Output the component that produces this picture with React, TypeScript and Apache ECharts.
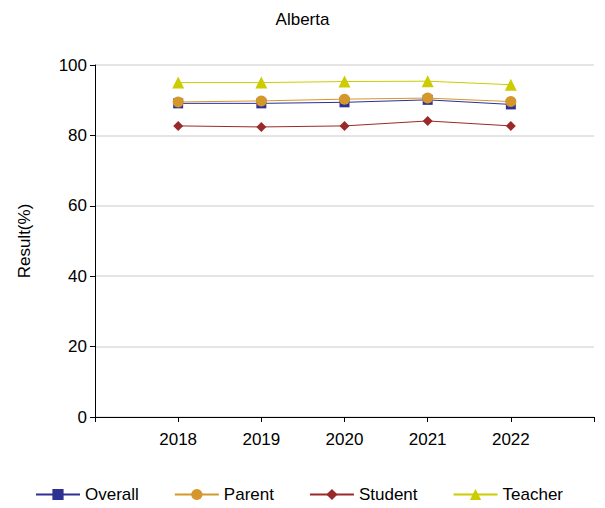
import * as echarts from "echarts";
import { useEffect, useRef } from "react";

const years = ["", "2018", "2019", "2020", "2021", "2022", ""];
const overall = [null, 89.1, 89.1, 89.4, 90.1, 88.8, null];
const parent = [null, 89.5, 89.8, 90.3, 90.6, 89.6, null];
const student = [null, 82.7, 82.4, 82.7, 84.1, 82.7, null];
const teacher = [null, 95.0, 95.0, 95.3, 95.4, 94.4, null];

function App() {
  const chartRef = useRef(null);

  useEffect(() => {
    const chart = echarts.init(chartRef.current, null, { renderer: "svg" });
    const mk = (name, data, color, symbol, size) => ({
      name,
      type: "line",
      data,
      symbol,
      symbolSize: size,
      itemStyle: { color },
      lineStyle: { color, width: 1 },
    });
    chart.setOption({
      animation: false,
      textStyle: { fontFamily: "Arial, Liberation Sans, sans-serif" },
      title: {
        text: "Alberta",
        left: "center",
        top: -2,
        textStyle: { fontSize: 17, fontWeight: "normal", color: "#000" },
      },
      legend: {
        bottom: 0,
        left: 22,
        itemGap: 35,
        itemWidth: 44,
        textStyle: { fontSize: 17, color: "#000" },
        data: ["Overall", "Parent", "Student", "Teacher"],
      },
      grid: { left: 87, right: 0, top: 57, bottom: 83 + 8, containLabel: false },
      xAxis: {
        type: "category",
        data: years,
        boundaryGap: false,
        axisLine: { lineStyle: { color: "#000" } },
        axisTick: { lineStyle: { color: "#000" } },
        axisLabel: { color: "#000", fontSize: 17, margin: 14 },
      },
      yAxis: {
        type: "value",
        min: 0,
        max: 100,
        interval: 20,
        name: "Result(%)",
        nameLocation: "middle",
        nameGap: 62,
        nameTextStyle: { fontSize: 17, color: "#000" },
        axisLine: { show: true, lineStyle: { color: "#000" } },
        axisTick: { show: true, lineStyle: { color: "#000" } },
        axisLabel: { color: "#000", fontSize: 17 },
        splitLine: { lineStyle: { color: "#ddd", width: 1.5 } },
      },
      series: [
        mk("Overall", overall, "#2e3192", "rect", 10),
        mk("Parent", parent, "#d4972c", "circle", 11),
        mk("Student", student, "#9a2a2a", "diamond", 10),
        mk("Teacher", teacher, "#cccc00", "triangle", 12),
      ],
    });
    return () => chart.dispose();
  }, []);

  return <div ref={chartRef} style={{ width: "589px", height: "500px" }} />;
}

export default App;
